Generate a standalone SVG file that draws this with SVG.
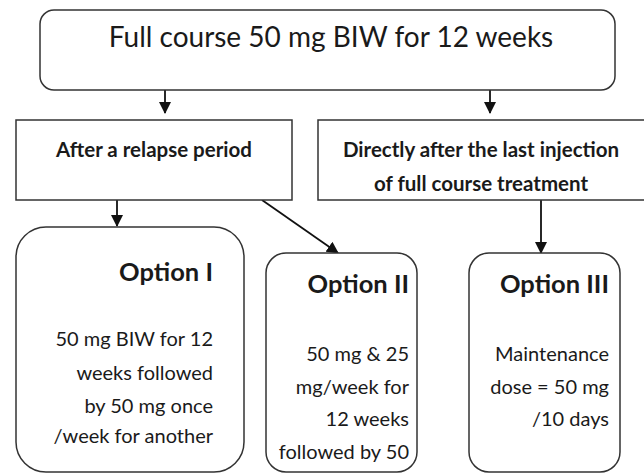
<svg xmlns="http://www.w3.org/2000/svg" width="644" height="474" viewBox="0 0 644 474">
<style>
.box{fill:#fff;stroke:#333;stroke-width:1.5}
.t{font-family:Lato,"Open Sans",sans-serif;fill:#1a1a1a}
.b{font-weight:bold}
.body{font-size:20px;text-anchor:end}
.ttl{font-size:25.5px;font-weight:bold;text-anchor:end}
.c{stroke:#111;stroke-width:1.8;fill:none}
</style>
<defs>
<marker id="ah" markerWidth="12" markerHeight="12" refX="11" refY="6" orient="auto" markerUnits="userSpaceOnUse" viewBox="0 0 12 12">
<path d="M0,0 L12,6 L0,12 z" fill="#111"/>
</marker>
</defs>
<rect width="644" height="474" fill="#fff"/>
<g id="connectors">
<line class="c" x1="165" y1="90" x2="165" y2="113" marker-end="url(#ah)"/>
<line class="c" x1="490" y1="90" x2="490" y2="113" marker-end="url(#ah)"/>
<line class="c" x1="117" y1="200" x2="117" y2="226" marker-end="url(#ah)"/>
<line class="c" x1="262" y1="200" x2="338" y2="253" marker-end="url(#ah)"/>
<line class="c" x1="541" y1="200" x2="541" y2="253" marker-end="url(#ah)"/>
</g>
<g id="top">
<rect class="box" x="40" y="10" width="575" height="80" rx="14"/>
<text class="t" x="331" y="47" font-size="28" text-anchor="middle">Full course 50 mg BIW for 12 weeks</text>
</g>
<g id="relapse">
<rect class="box" x="16" y="120" width="276" height="80"/>
<text class="t b" x="154" y="157" font-size="20.5" text-anchor="middle">After a relapse period</text>
</g>
<g id="direct">
<rect class="box" x="318" y="120" width="330" height="80"/>
<text class="t b" x="481" y="157" font-size="20.5" text-anchor="middle">Directly after the last injection</text>
<text class="t b" x="481" y="191" font-size="20.5" text-anchor="middle">of full course treatment</text>
</g>
<g id="opt1">
<rect class="box" x="16" y="227" width="228" height="245" rx="30"/>
<text class="t ttl" x="213" y="281">Option I</text>
<text class="t body" x="213" y="346">50 mg BIW for 12</text>
<text class="t body" x="213" y="380">weeks followed</text>
<text class="t body" x="213" y="413">by 50 mg once</text>
<text class="t body" x="213" y="443">/week for another</text>
</g>
<g id="opt2">
<rect class="box" x="266" y="253" width="151" height="219" rx="20"/>
<text class="t ttl" x="409" y="293">Option II</text>
<text class="t body" x="409" y="361">50 mg &amp; 25</text>
<text class="t body" x="409" y="394">mg/week for</text>
<text class="t body" x="409" y="426">12 weeks</text>
<text class="t body" x="409" y="459">followed by 50</text>
</g>
<g id="opt3">
<rect class="box" x="469" y="253" width="151" height="219" rx="20"/>
<text class="t ttl" x="609" y="293">Option III</text>
<text class="t body" x="609" y="361">Maintenance</text>
<text class="t body" x="609" y="394">dose = 50 mg</text>
<text class="t body" x="609" y="426">/10 days</text>
</g>
</svg>
